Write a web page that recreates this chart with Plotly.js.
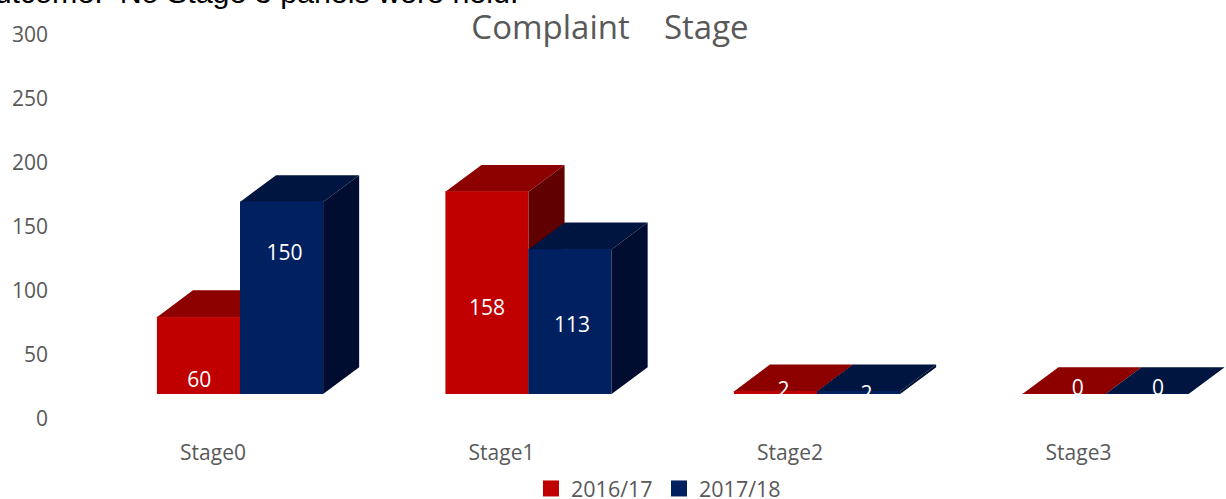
<!DOCTYPE html>
<html>
<head>
<meta charset="utf-8">
<script src="https://cdn.plot.ly/plotly-3.0.1.min.js"></script>
<style>html,body{margin:0;padding:0;background:#fff;overflow:hidden}</style>
</head>
<body>
<div id="chart" style="width:1226px;height:499px"></div>
<script>
const categories = ['Stage0', 'Stage1', 'Stage2', 'Stage3'];
const values2016 = [60, 158, 2, 0];
const values2017 = [150, 113, 2, 0];
const seriesNames = ['2016/17', '2017/18'];
const yTicks = [0, 50, 100, 150, 200, 250, 300];

const GREY = '#595959';
const FONT = 'Open Sans, sans-serif';
const FLOOR = 19.5, DX = 0.125, DY = 21, W = 0.288, GAP = 0.0936;
const positions = categories.map((_, i) => i);

function series(vals, name, start, front, top, side, z) {
  const traces = [];
  const xs = positions.map(p => p + start);
  traces.push({type:'bar', x:positions, y:vals, base:FLOOR, width:W, offset:start, name:name,
    marker:{color:front, line:{width:0}}, showlegend:false, zorder:z, hoverinfo:'x+y'});
  const sx=[], sy=[], tx=[], ty=[], ex=[], ey=[];
  xs.forEach((x0,i) => {
    const t = FLOOR + vals[i], x1 = x0 + W;
    sx.push(x1, x1+DX, x1+DX, x1, x1, null);
    sy.push(FLOOR, FLOOR+DY, t+DY, t, FLOOR, null);
    tx.push(x0, x1, x1+DX, x0+DX, x0, null);
    ty.push(t, t, t+DY, t+DY, t, null);
    ex.push(x0, x1, null);
    ey.push(t, t, null);
  });
  traces.push({type:'scatter', mode:'lines', x:sx, y:sy, fill:'toself', fillcolor:side, line:{width:0}, showlegend:false, hoverinfo:'skip', zorder:z});
  traces.push({type:'scatter', mode:'lines', x:tx, y:ty, fill:'toself', fillcolor:top, line:{width:0}, showlegend:false, hoverinfo:'skip', zorder:z});
  traces.push({type:'scatter', mode:'lines', x:ex, y:ey, line:{width:1, color:front}, showlegend:false, hoverinfo:'skip', zorder:z});
  traces.push({type:'scatter', mode:'markers', x:[null], y:[null], name:name, marker:{symbol:'square', size:16, color:front}, zorder:z});
  return traces;
}

function labels(vals, start, labelY, labelDx) {
  return {type:'scatter', mode:'text', x:positions.map((p,i) => p + start + W/2 + labelDx[i]), y:labelY.map(v => FLOOR + v),
    text:vals.map(String), textposition:'middle center',
    textfont:{family:FONT, size:21, color:'#fff'}, showlegend:false, hoverinfo:'skip', zorder:5};
}

// label placement: height above the bar floor, sideways shift in category units
const labelY2016 = [9.4, 65.6, 1.6, 3.5];
const labelY2017 = [108.6, 52.2, -1.6, 3.5];
const labelDx2016 = [0.003, 0, 0.028, 0.048];
const labelDx2017 = [0.010, 0.007, 0.028, 0.038];

const data = [
  ...series(values2016, seriesNames[0], GAP - W, '#C00000', '#8C0000', '#600000', 1),
  ...series(values2017, seriesNames[1], GAP, '#002060', '#001540', '#000D30', 2),
  labels(values2016, GAP - W, labelY2016, labelDx2016),
  labels(values2017, GAP, labelY2017, labelDx2017)
];

const xMin = (60-213)/288.5, xMax = (1226-213)/288.5;
const layout = {
  width:1226, height:499, paper_bgcolor:'#fff', plot_bgcolor:'#fff', barmode:'overlay',
  margin:{l:0, r:0, t:0, b:0, autoexpand:false}, showlegend:true, hovermode:'closest',
  title:{text:'Complaint\u00A0\u00A0\u00A0\u00A0Stage', font:{family:FONT, size:33, color:GREY}, x:610/1226, xanchor:'center', y:1-27/499, yanchor:'middle'},
  xaxis:{type:'linear', domain:[60/1226, 1], range:[xMin, xMax], tickmode:'array', tickvals:positions, ticktext:categories,
    showgrid:false, zeroline:false, showline:false, ticks:'', ticklabelstandoff:19, tickfont:{family:FONT, size:21, color:GREY}, anchor:'y'},
  yaxis:{domain:[(499-419)/499, (499-35)/499], range:[0,300], tickmode:'array', tickvals:yTicks, ticktext:yTicks.map(String),
    showgrid:false, zeroline:false, showline:false, ticks:'', ticklabelstandoff:11, tickfont:{family:FONT, size:21, color:GREY}},
  legend:{orientation:'h', x:531/1226, xanchor:'left', y:-0.02, yanchor:'bottom', font:{family:FONT, size:21.5, color:GREY}, bgcolor:'rgba(0,0,0,0)', entrywidth:83, traceorder:'normal'},
  shapes:[{type:'rect', layer:'above', xref:'x', x0:xMin, x1:xMax, yref:'y', y0:0, y1:FLOOR, fillcolor:'#fff', line:{width:0}}],
  annotations:[{text:'Outcome:\u00A0\u00A0No Stage 3 panels were held.', xref:'paper', yref:'paper', x:-31/1226, xanchor:'left', y:1-11/499, yanchor:'bottom', showarrow:false, font:{family:'Liberation Sans, Arial, sans-serif', size:30.4, color:'#000'}}]
};
Plotly.newPlot('chart', data, layout, {displayModeBar:false, responsive:false});
</script>
</body>
</html>
